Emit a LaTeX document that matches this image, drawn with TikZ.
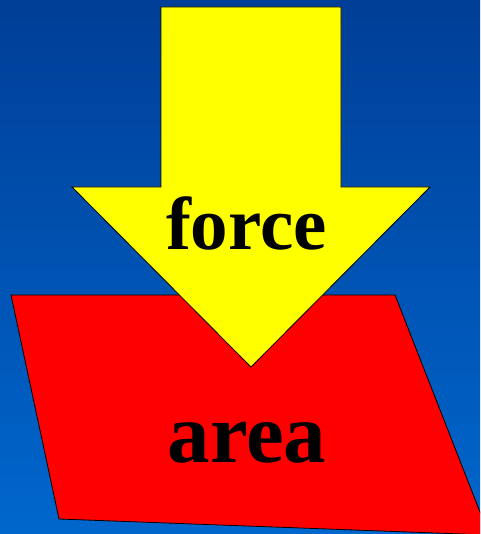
\documentclass[tikz,border=0pt]{standalone}
\usepackage{fontspec}
\setmainfont{Liberation Serif}
\definecolor{bgtop}{HTML}{003E97}
\definecolor{bgbot}{HTML}{0067CD}
\definecolor{arrowyellow}{HTML}{FFFF00}
\definecolor{areared}{HTML}{FF0000}
\tikzset{
  shapeline/.style={draw=black, line width=0.8pt, line join=miter},
  bigword/.style={anchor=base, inner sep=0pt, font=\bfseries}
}
\begin{document}
\begin{tikzpicture}[x=1pt,y=-1pt]
\useasboundingbox (0,0) rectangle (480,534);
\shade[top color=bgtop, bottom color=bgbot] (0,0) rectangle (480,534);
\begin{scope}
\clip (0,0) rectangle (480,534);
\fill[areared] (11,295) -- (395,295) -- (489,535) -- (59,519) -- cycle;
\draw[shapeline] (11,295) -- (395,295) -- (489,535) -- (59,519) -- cycle;
\end{scope}
\fill[arrowyellow] (161,7) -- (341,7) -- (341,187) -- (430,187) -- (251,367) -- (72,187) -- (161,187) -- cycle;
\draw[shapeline] (161,7) -- (341,7) -- (341,187) -- (430,187) -- (251,367) -- (72,187) -- (161,187) -- cycle;
\node[bigword, font=\bfseries\fontsize{75}{75}\selectfont] (force) at (246.5,249) {force};
\node[bigword, font=\bfseries\fontsize{85}{85}\selectfont] (area) at (247,462) {area};
\end{tikzpicture}
\end{document}
